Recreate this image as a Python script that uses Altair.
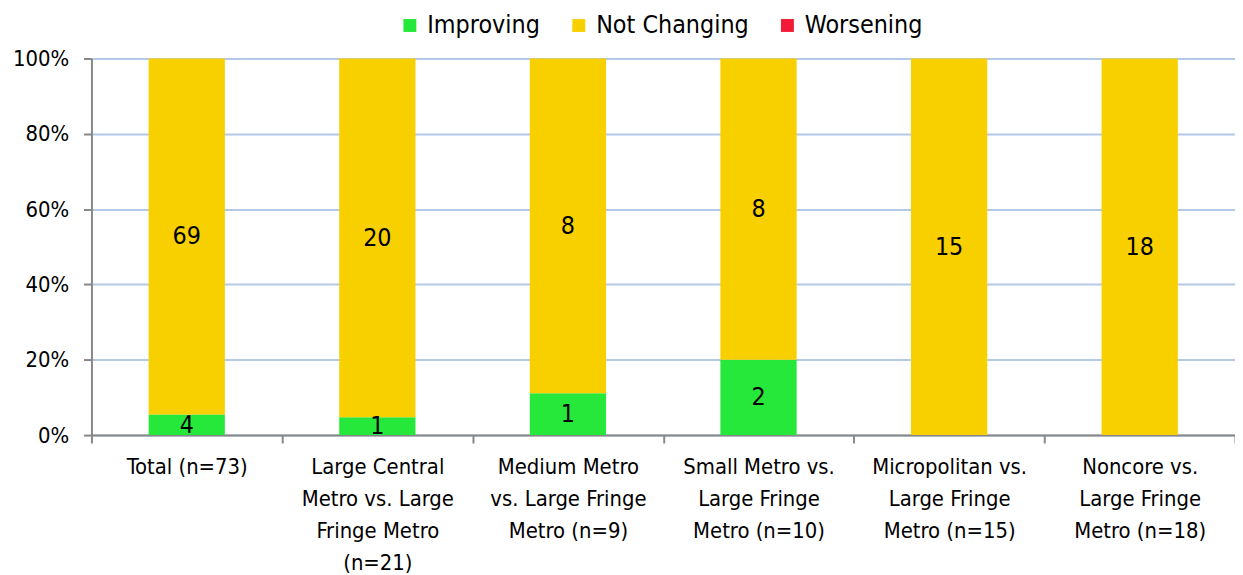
import altair as alt
import pandas as pd

categories = [
    "Total (n=73)",
    "Large Central Metro vs. Large Fringe Metro (n=21)",
    "Medium Metro vs. Large Fringe Metro  (n=9)",
    "Small Metro vs. Large Fringe Metro  (n=10)",
    "Micropolitan vs. Large Fringe Metro  (n=15)",
    "Noncore vs. Large Fringe Metro (n=18)",
]
label_lines = [
    "Total (n=73)",
    "Large Central|Metro vs. Large|Fringe Metro|(n=21)",
    "Medium Metro|vs. Large Fringe|Metro  (n=9)",
    "Small Metro vs.|Large Fringe|Metro  (n=10)",
    "Micropolitan vs.|Large Fringe|Metro  (n=15)",
    "Noncore vs.|Large Fringe|Metro (n=18)",
]
statuses = ["Improving", "Not Changing", "Worsening"]
improving = [4, 1, 1, 2, 0, 0]
not_changing = [69, 20, 8, 8, 15, 18]
worsening = [0, 0, 0, 0, 0, 0]
colors = ["#26E83A", "#F8D000", "#F21A36"]

rows = []
for i, c in enumerate(categories):
    for j, (s, vals) in enumerate(zip(statuses, [improving, not_changing, worsening])):
        rows.append({"cat": label_lines[i], "status": s, "order": j, "count": vals[i]})
df = pd.DataFrame(rows)

FONT = "DejaVu Sans Condensed"
FS = 22

x_enc = alt.X(
    "cat:N",
    sort=label_lines,
    title=None,
    scale=alt.Scale(paddingInner=0, paddingOuter=0),
    axis=alt.Axis(
        labelAngle=0,
        labelExpr="split(datum.label, '|')",
        labelFontSize=FS,
        labelFont=FONT,
        labelColor="#000000",
        labelLineHeight=32,
        labelPadding=14,
        labelBaseline="top",
        labelOverlap=False,
        labelBound=False,
        labelLimit=0,
        tickBand="extent",
        tickSize=8,
        tickColor="#888888",
        domainColor="#888888",
        domainWidth=2,
        tickWidth=2,
        grid=False,
    ),
)

bars = alt.Chart(df).mark_bar(width=alt.RelativeBandSize(0.4)).encode(
    x=x_enc,
    y=alt.Y(
        "count:Q",
        stack="normalize",
        title=None,
        scale=alt.Scale(domain=[0, 1]),
        axis=alt.Axis(
            format="%",
            values=[0, 0.2, 0.4, 0.6, 0.8, 1.0],
            labelFontSize=FS,
            labelFont=FONT,
            labelColor="#000000",
            labelPadding=15,
            tickSize=8,
            tickWidth=2,
            tickColor="#888888",
            domainColor="#888888",
            domainWidth=2,
            gridColor="#B4C8E8",
            gridWidth=2,
        ),
    ),
    color=alt.Color(
        "status:N",
        scale=alt.Scale(domain=statuses, range=colors),
        title=None,
        legend=alt.Legend(
            orient="none",
            legendX=308,
            legendY=-46,
            direction="horizontal",
            symbolType="square",
            symbolSize=169,
            symbolStrokeWidth=0,
            labelFontSize=25,
            labelFont=FONT,
            labelColor="#000000",
            labelOffset=5,
            columnPadding=26,
        ),
    ),
    order=alt.Order("order:Q"),
)

texts = alt.Chart(df).transform_joinaggregate(
    total="sum(count)", groupby=["cat"]
).transform_window(
    cum="sum(count)", sort=[alt.SortField("order")], groupby=["cat"], frame=[None, 0]
).transform_filter(
    alt.datum.count > 0
).transform_calculate(
    mid="(datum.cum - datum.count / 2) / datum.total"
).mark_text(fontSize=25, font=FONT, color="#000000").encode(
    x=alt.X("cat:N", sort=label_lines),
    y=alt.Y("mid:Q", scale=alt.Scale(domain=[0, 1])),
    text="count:Q",
)

chart = alt.layer(bars, texts).properties(
    width=1151,
    height=379,
    autosize=alt.AutoSizeParams(type="none"),
    padding={"left": 84, "top": 49, "right": 0, "bottom": 140},
).configure_view(stroke=None)

chart.save("out.html", embed_options={"renderer": "svg", "actions": False})
